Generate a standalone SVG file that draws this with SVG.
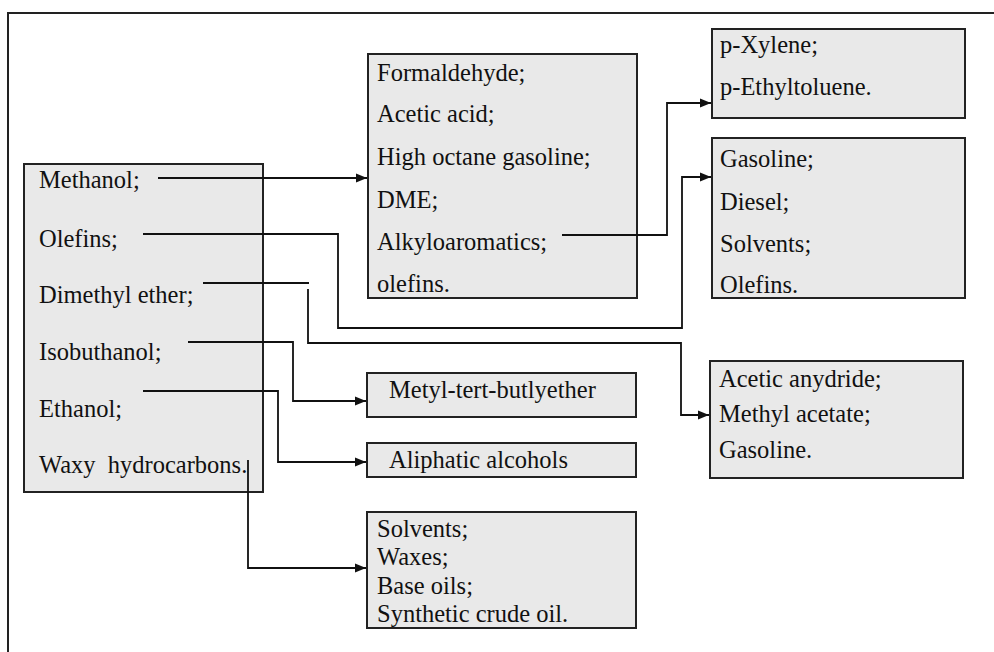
<svg xmlns="http://www.w3.org/2000/svg" width="994" height="652" viewBox="0 0 994 652">
<defs>
<marker id="arr" markerWidth="12" markerHeight="10" refX="11" refY="5" orient="auto" markerUnits="userSpaceOnUse">
<path d="M0,0.5 L11,5 L0,9.5 Z" fill="#111"/>
</marker>
</defs>
<style>
.box{fill:#e9e9e9;stroke:#222;stroke-width:2}
.t{font-family:"Liberation Serif","Times New Roman",serif;font-size:24.5px;fill:#111}
.c{fill:none;stroke:#111;stroke-width:1.8}
.frame{fill:none;stroke:#222;stroke-width:2}
</style>
<rect width="994" height="652" fill="#fff"/>
<path class="frame" d="M8,652 V13 H994"/>

<g id="sources">
<rect class="box" x="24" y="164" width="239" height="328"/>
<text class="t" x="39" y="188">Methanol;</text>
<text class="t" x="39" y="247">Olefins;</text>
<text class="t" x="39" y="303">Dimethyl ether;</text>
<text class="t" x="39" y="360">Isobuthanol;</text>
<text class="t" x="39" y="417">Ethanol;</text>
<text class="t" x="39" y="473" xml:space="preserve">Waxy  hydrocarbons.</text>
</g>

<g id="methanol-products">
<rect class="box" x="368" y="54" width="269" height="244"/>
<text class="t" x="377" y="81">Formaldehyde;</text>
<text class="t" x="377" y="122">Acetic acid;</text>
<text class="t" x="377" y="165">High octane gasoline;</text>
<text class="t" x="377" y="208">DME;</text>
<text class="t" x="377" y="250">Alkyloaromatics;</text>
<text class="t" x="377" y="292">olefins.</text>
</g>

<g id="xylene">
<rect class="box" x="712" y="29" width="253" height="89"/>
<text class="t" x="720" y="53">p-Xylene;</text>
<text class="t" x="720" y="95">p-Ethyltoluene.</text>
</g>

<g id="fuels">
<rect class="box" x="712" y="138" width="253" height="160"/>
<text class="t" x="720" y="167">Gasoline;</text>
<text class="t" x="720" y="210">Diesel;</text>
<text class="t" x="720" y="252">Solvents;</text>
<text class="t" x="720" y="293">Olefins.</text>
</g>

<g id="acetic">
<rect class="box" x="710" y="361" width="253" height="117"/>
<text class="t" x="719" y="387">Acetic anydride;</text>
<text class="t" x="719" y="422">Methyl acetate;</text>
<text class="t" x="719" y="458">Gasoline.</text>
</g>

<g id="mtbe">
<rect class="box" x="367" y="373" width="269" height="44"/>
<text class="t" x="389" y="398">Metyl-tert-butlyether</text>
</g>

<g id="aliphatic">
<rect class="box" x="367" y="443" width="269" height="34"/>
<text class="t" x="389" y="468">Aliphatic alcohols</text>
</g>

<g id="waxes">
<rect class="box" x="367" y="512" width="269" height="116"/>
<text class="t" x="377" y="537">Solvents;</text>
<text class="t" x="377" y="565">Waxes;</text>
<text class="t" x="377" y="594">Base oils;</text>
<text class="t" x="377" y="622">Synthetic crude oil.</text>
</g>

<g id="connectors">
<path class="c" d="M158,178 H367" marker-end="url(#arr)"/>
<path class="c" d="M562,235 H667 V103 H711" marker-end="url(#arr)"/>
<path class="c" d="M143,234 H338 V328 H682 V177 H711" marker-end="url(#arr)"/>
<path class="c" d="M203,283 H309"/>
<path class="c" d="M308,289 V343 H681 V415 H709" marker-end="url(#arr)"/>
<path class="c" d="M188,342 H293 V401 H366" marker-end="url(#arr)"/>
<path class="c" d="M143,391 H278 V462 H366" marker-end="url(#arr)"/>
<path class="c" d="M248,460 V568 H366" marker-end="url(#arr)"/>
</g>
</svg>
